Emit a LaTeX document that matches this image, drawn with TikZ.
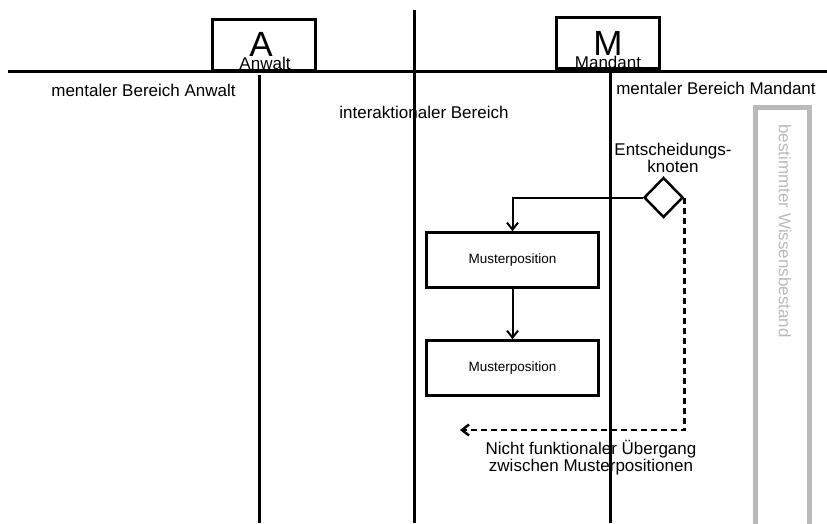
\documentclass[tikz,border=0pt]{standalone}
\usepackage{fontspec}
\setmainfont{Liberation Sans}
\usetikzlibrary{positioning,shapes.geometric,arrows.meta}

\begin{document}
\begin{tikzpicture}[x=1pt,y=-1pt,
  lane/.style={line width=3pt},
  actor/.style={draw, line width=3pt, minimum width=103pt, minimum height=51pt, inner sep=0pt},
  muster/.style={draw, line width=2.5pt, minimum width=172pt, minimum height=55pt, font=\fontsize{13.5}{15}\selectfont},
  lbl/.style={font=\fontsize{17}{19}\selectfont, inner sep=0pt},
  flow/.style={line width=2pt, -{Straight Barb[length=7pt,width=11pt]}},
  gray box/.style={draw=black!27, line width=5pt}]
\useasboundingbox (0,0) rectangle (827,523);
% Akteure
\node[actor] (Abox) at (263.5,44.5) {};
\node[actor] (Mbox) at (607.5,43) {};
\node[lbl, anchor=base, font=\fontsize{35}{35}\selectfont] (Abig) at (261,56) {A};
\node[lbl, anchor=base] (Aname) at (265,69) {Anwalt};
\node[lbl, anchor=base, font=\fontsize{35}{35}\selectfont] (Mbig) at (608,55) {M};
\node[lbl, anchor=base] (Mname) at (608,68) {Mandant};
% Linien
\coordinate (hl) at (8,71); \coordinate (hr) at (827,71);
\draw[lane] (hl) -- (hr);
\coordinate (at) at (259,75); \coordinate (ab) at (259,523);
\coordinate (ct) at (414.5,10); \coordinate (cb) at (414.5,523);
\coordinate (mt) at (610,71); \coordinate (mb) at (610,523);
\draw[lane] (at) -- (ab);
\draw[lane] (ct) -- (cb);
\draw[lane] (mt) -- (mb);
% Bereiche
\node[lbl, anchor=base] (mentA) at (143.5,96) {mentaler Bereich Anwalt};
\node[lbl, anchor=base] (mentM) at (716,94) {mentaler Bereich Mandant};
\node[lbl, anchor=base] (inter) at (424,118) {interaktionaler Bereich};
% Wissensbestand
\draw[gray box] (755.5,107.5) rectangle (809.5,535);
\node[lbl, rotate=-90, text=black!27] (wissen) at (785,231) {bestimmter Wissensbestand};
% Entscheidung
\node[lbl, align=center, font=\fontsize{17}{14}\selectfont] (entlbl) at (673,158) {Entscheidungs-\\knoten};
\node[draw, diamond, line width=2.5pt, minimum width=39pt, minimum height=40pt, inner sep=0pt] (knoten) at (663.5,197.5) {};
\node[muster] (pos1) at (512.5,260) {Musterposition};
\node[muster] (pos2) at (512.5,368) {Musterposition};
\draw[flow] (knoten.west) -| (pos1.north);
\draw[flow] (pos1.south) -- (pos2.north);
\coordinate (dashend) at (460,430);
\draw[flow, line width=2.5pt, dashed, dash pattern=on 6pt off 4pt] (knoten.east) |- (dashend);
\node[lbl, align=center, font=\fontsize{17}{17}\selectfont] (ueber) at (591,458) {Nicht funktionaler Übergang\\zwischen Musterpositionen};
\end{tikzpicture}
\end{document}
